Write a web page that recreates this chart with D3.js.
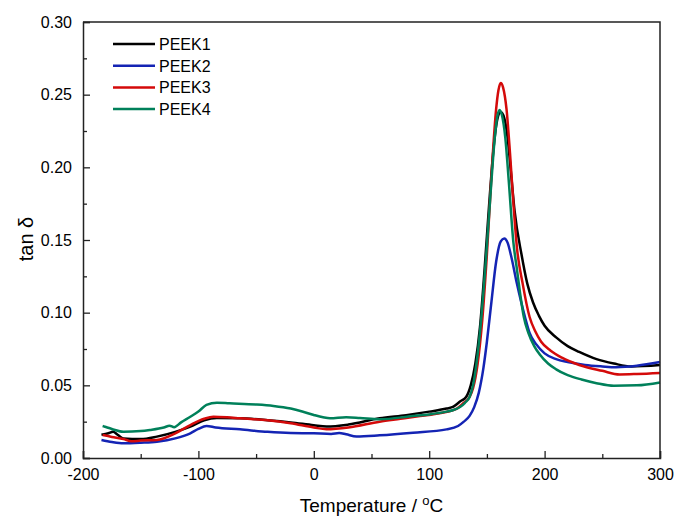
<!DOCTYPE html>
<html>
<head>
<meta charset="utf-8">
<script src="https://cdn.jsdelivr.net/npm/d3@7"></script>
<style>
  body { margin: 0; background: #fff; }
  svg text { font-family: "Liberation Sans", Arial, sans-serif; fill: #000; }
</style>
</head>
<body>
<div id="chart"></div>
<script>
// series names and colours
const seriesNames = ['PEEK1', 'PEEK2', 'PEEK3', 'PEEK4'];
const seriesColors = ['#000000', '#1424b4', '#d40a0a', '#00805a'];

// temperature (°C) and tan delta
const peek1Temp = [-184, -178, -174, -170, -165, -150, -136, -120, -107, -95, -84, -64, -40, -20, 0, 11, 30, 57, 80, 100, 115, 121, 127, 132, 136, 140, 144, 148, 152, 156, 159, 162, 165, 168, 171, 174, 180, 185, 190, 195, 200, 210, 220, 230, 245, 260, 275, 300];
const peek1Tan = [0.016, 0.017, 0.018, 0.016, 0.0135, 0.013, 0.0147, 0.018, 0.0216, 0.026, 0.0275, 0.0273, 0.026, 0.0245, 0.0225, 0.0216, 0.023, 0.0273, 0.0295, 0.0319, 0.034, 0.0353, 0.039, 0.042, 0.05, 0.065, 0.09, 0.13, 0.175, 0.215, 0.233, 0.238, 0.234, 0.22, 0.195, 0.17, 0.14, 0.12, 0.107, 0.098, 0.091, 0.083, 0.077, 0.073, 0.068, 0.065, 0.063, 0.064];

const peek2Temp = [-184, -175, -165, -150, -136, -120, -107, -100, -93, -85, -64, -40, -20, 0, 15, 22, 28, 37, 57, 86, 115, 125, 130, 135, 139, 143, 147, 150, 154, 158, 162, 165, 168, 171, 176, 183, 187, 193, 200, 210, 220, 235, 250, 262, 280, 300];
const peek2Tan = [0.0124, 0.011, 0.0101, 0.0105, 0.0112, 0.0135, 0.017, 0.020, 0.022, 0.021, 0.0197, 0.018, 0.0172, 0.017, 0.0166, 0.0172, 0.0163, 0.0148, 0.0156, 0.0174, 0.0197, 0.022, 0.025, 0.029, 0.035, 0.045, 0.062, 0.08, 0.108, 0.135, 0.149, 0.151, 0.148, 0.139, 0.12, 0.097, 0.086, 0.078, 0.072, 0.068, 0.066, 0.064, 0.063, 0.0625, 0.0635, 0.066];

const peek3Temp = [-183, -175, -165, -158, -150, -136, -120, -107, -95, -87, -75, -64, -40, -20, 0, 11, 30, 57, 75, 92, 110, 124, 130, 135, 138, 142, 146, 150, 154, 158, 160, 162, 164, 167, 170, 173, 176, 181, 187, 192, 197, 205, 215, 230, 250, 265, 280, 300];
const peek3Tan = [0.0158, 0.0145, 0.0131, 0.0115, 0.012, 0.0124, 0.017, 0.0227, 0.027, 0.0284, 0.028, 0.0273, 0.026, 0.0239, 0.021, 0.0198, 0.021, 0.025, 0.027, 0.0289, 0.031, 0.034, 0.038, 0.042, 0.048, 0.065, 0.095, 0.14, 0.195, 0.24, 0.253, 0.258, 0.255, 0.24, 0.21, 0.175, 0.145, 0.12, 0.097, 0.087, 0.080, 0.074, 0.069, 0.064, 0.06, 0.0575, 0.0578, 0.0585];

const peek4Temp = [-183, -181, -175, -165, -150, -142, -130, -125, -121, -115, -107, -100, -93, -84, -73, -50, -35, -20, -10, 0, 8, 14, 28, 40, 57, 86, 100, 115, 121, 127, 131, 135, 138, 141, 145, 149, 153, 157, 159, 161, 163, 166, 169, 173, 176, 179, 182, 186, 191, 196, 203, 210, 220, 232, 245, 260, 280, 300];
const peek4Tan = [0.022, 0.0215, 0.020, 0.018, 0.0185, 0.0193, 0.021, 0.0222, 0.0212, 0.0245, 0.0284, 0.032, 0.0365, 0.038, 0.0376, 0.0368, 0.0358, 0.034, 0.032, 0.0296, 0.028, 0.0273, 0.028, 0.0275, 0.0266, 0.0289, 0.030, 0.0319, 0.033, 0.0353, 0.038, 0.042, 0.05, 0.065, 0.095, 0.135, 0.18, 0.222, 0.235, 0.2395, 0.236, 0.22, 0.19, 0.148, 0.13, 0.112, 0.097, 0.086, 0.077, 0.071, 0.065, 0.061, 0.057, 0.054, 0.0515, 0.0497, 0.050, 0.052];

// axis ticks
const xTicks = [-200, -100, 0, 100, 200, 300];
const xMinorTicks = [-150, -50, 50, 150, 250];
const yTicks = [0, 0.05, 0.10, 0.15, 0.20, 0.25, 0.30];
const yMinorTicks = [0.025, 0.075, 0.125, 0.175, 0.225, 0.275];

const series = [
  { name: seriesNames[0], color: seriesColors[0], t: peek1Temp, v: peek1Tan },
  { name: seriesNames[1], color: seriesColors[1], t: peek2Temp, v: peek2Tan },
  { name: seriesNames[2], color: seriesColors[2], t: peek3Temp, v: peek3Tan },
  { name: seriesNames[3], color: seriesColors[3], t: peek4Temp, v: peek4Tan },
].map((s) => ({ ...s, points: s.t.map((t, i) => [t, s.v[i]]) }));

const width = 676;
const height = 517;
const margin = { top: 22, right: 16, bottom: 59, left: 83 };

const svg = d3.select('#chart')
  .append('svg')
  .attr('width', width)
  .attr('height', height);

const xScale = d3.scaleLinear().domain([-200, 300]).range([margin.left, width - margin.right]);
const yScale = d3.scaleLinear().domain([0, 0.30]).range([height - margin.bottom, margin.top]);

// curves
const line = d3.line()
  .x((d) => xScale(d[0]))
  .y((d) => yScale(d[1]))
  .curve(d3.curveMonotoneX);

svg.append('g')
  .attr('class', 'lines')
  .selectAll('path')
  .data(series)
  .join('path')
  .attr('d', (d) => line(d.points))
  .attr('fill', 'none')
  .attr('stroke', (d) => d.color)
  .attr('stroke-width', 2.5)
  .attr('stroke-linejoin', 'round');

// frame (top and right)
svg.append('path')
  .attr('d', `M${margin.left},${margin.top}H${width - margin.right}V${height - margin.bottom}`)
  .attr('fill', 'none')
  .attr('stroke', '#222')
  .attr('stroke-width', 1.5);

// axes with inward ticks, plain hyphen for negatives
svg.append('g')
  .attr('transform', `translate(0, ${height - margin.bottom})`)
  .call(d3.axisBottom(xScale).tickValues(xTicks).tickSize(-7).tickPadding(11).tickFormat((d) => String(d)));
svg.append('g')
  .attr('transform', `translate(0, ${height - margin.bottom})`)
  .call(d3.axisBottom(xScale).tickValues(xMinorTicks).tickSize(-4).tickFormat(''))
  .call((g) => g.select('.domain').remove());

svg.append('g')
  .attr('transform', `translate(${margin.left}, 0)`)
  .call(d3.axisLeft(yScale).tickValues(yTicks).tickSize(-7).tickPadding(11).tickFormat((d) => d.toFixed(2)));
svg.append('g')
  .attr('transform', `translate(${margin.left}, 0)`)
  .call(d3.axisLeft(yScale).tickValues(yMinorTicks).tickSize(-4).tickFormat(''))
  .call((g) => g.select('.domain').remove());

svg.selectAll('.domain').attr('stroke', '#222').attr('stroke-width', 1.5);
svg.selectAll('.tick line').attr('stroke', '#222').attr('stroke-width', 1.3);
svg.selectAll('.tick text')
  .attr('font-size', 16)
  .attr('font-family', '"Liberation Sans", Arial, sans-serif')
  .attr('fill', '#000');

// axis titles
const xTitle = svg.append('text')
  .attr('x', (margin.left + width - margin.right) / 2)
  .attr('y', 512)
  .attr('text-anchor', 'middle')
  .attr('font-size', 19);
xTitle.append('tspan').text('Temperature / ');
xTitle.append('tspan').attr('font-size', 13).attr('dy', -7).text('o');
xTitle.append('tspan').attr('dy', 7).text('C');

svg.append('text')
  .attr('transform', 'translate(33, 239) rotate(-90)')
  .attr('text-anchor', 'middle')
  .attr('font-size', 20)
  .text('tan δ');

// legend
const legend = svg.append('g').attr('class', 'legend');
const rowY = (i) => 44 + i * 21.7;
legend.selectAll('line')
  .data(series)
  .join('line')
  .attr('x1', 113)
  .attr('x2', 155)
  .attr('y1', (d, i) => rowY(i))
  .attr('y2', (d, i) => rowY(i))
  .attr('stroke', (d) => d.color)
  .attr('stroke-width', 2.5);
legend.selectAll('text')
  .data(series)
  .join('text')
  .attr('x', 159)
  .attr('y', (d, i) => rowY(i) + 6)
  .attr('font-size', 16)
  .text((d) => d.name);
</script>
</body>
</html>
